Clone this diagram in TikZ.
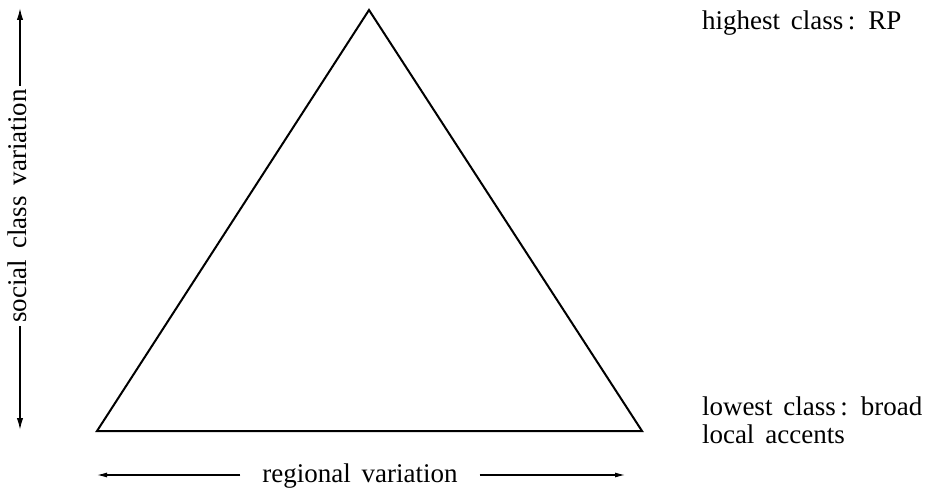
\documentclass[tikz,border=0pt]{standalone}
\usepackage{fontspec}
\setmainfont[WordSpace=1.6]{Liberation Serif}
\usetikzlibrary{arrows.meta}
\begin{document}
\begin{tikzpicture}[x=1pt,y=-1pt,
  lbl/.style={font=\fontsize{27}{28}\selectfont, inner sep=0pt, outer sep=0pt},
  bigarrow/.style={line width=1.6pt, -{Latex[length=12pt,width=6.5pt]}},
  smallarrow/.style={line width=1.1pt, -{Latex[length=10pt,width=5pt]}}]
\useasboundingbox (0,0) rectangle (931,492);
% triangle
\coordinate (A) at (369,10);
\coordinate (B) at (97,431);
\coordinate (C) at (642,431);
\draw[line width=2pt, line join=miter] (A) -- (B) -- (C) -- cycle;
% right-hand labels
\node[lbl, anchor=base west] (hi) at (702,30) {highest class\,: RP};
\node[lbl, anchor=base west] (lo1) at (702,415) {lowest class\,: broad};
\node[lbl, anchor=base west] (lo2) at (702,443) {local accents};
% vertical axis
\node[lbl, rotate=90, anchor=base, outer xsep=3.5pt] (sc) at (27,206) {social class variation};
\coordinate (vt) at (20,8);
\coordinate (vb) at (20,430);
\draw[bigarrow] (vt |- sc.east) -- (vt);
\draw[bigarrow] (vb |- sc.west) -- (vb);
% horizontal axis
\node[lbl, anchor=base, outer xsep=22pt] (rv) at (360,482) {regional variation};
\coordinate (hl) at (97,475);
\coordinate (hr) at (625,475);
\draw[smallarrow] (rv.west |- hl) -- (hl);
\draw[smallarrow] (rv.east |- hr) -- (hr);
\end{tikzpicture}
\end{document}
